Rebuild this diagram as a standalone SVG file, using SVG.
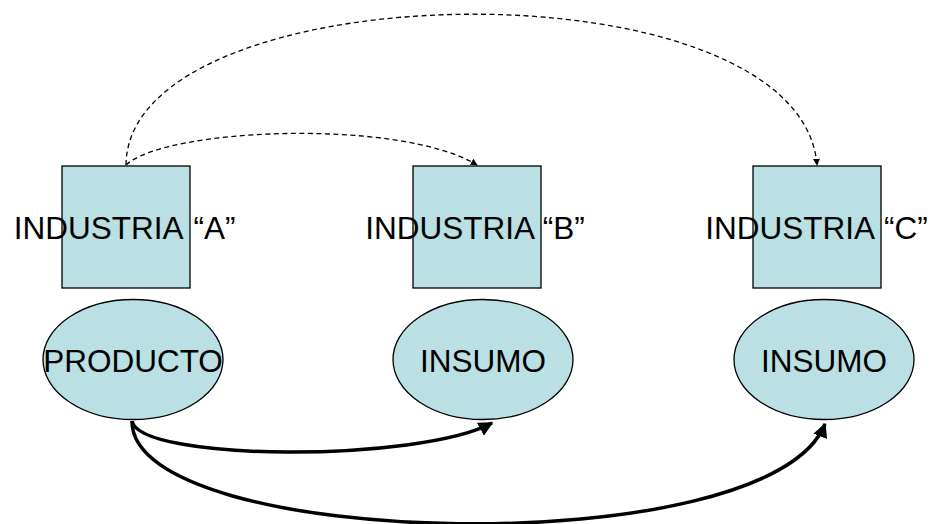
<svg xmlns="http://www.w3.org/2000/svg" width="930" height="524" viewBox="0 0 930 524">
<style>
.box{fill:#BAE0E3;stroke:#000;stroke-width:1.3}
.lbl{font-family:"Liberation Sans",Arial,sans-serif;font-size:31.5px;fill:#000}
.mid{text-anchor:middle}
.dash{fill:none;stroke:#000;stroke-width:1.3;stroke-dasharray:5,3.5}
.solid{fill:none;stroke:#000;stroke-width:3.5}
</style>
<defs>
<marker id="ah" viewBox="0 0 10 10" refX="9" refY="5" markerWidth="7" markerHeight="7" markerUnits="userSpaceOnUse" orient="auto"><path d="M0,0L10,5L0,10z" fill="#000"/></marker>
<marker id="ahb" viewBox="0 0 10 10" refX="9" refY="5" markerWidth="4.2" markerHeight="4.2" orient="auto"><path d="M0,0L10,5L0,10z" fill="#000"/></marker>
</defs>
<g id="connectors">
<path class="dash" d="M126,165 C165,128 400,118 477,165" marker-end="url(#ah)"/>
<path class="dash" d="M126,165 C128,-30 800,-42 817,165" marker-end="url(#ah)"/>
<path class="solid" d="M132,421 C140,462 420,462 492,423" marker-end="url(#ahb)"/>
<path class="solid" d="M132,421 C130,550 770,565 825,424" marker-end="url(#ahb)"/>
</g>
<g id="industria-a"><rect class="box" x="62" y="166" width="128" height="122"/><text class="lbl" x="13.8" y="239">INDUSTRIA<tspan x="193.5">“A”</tspan></text></g>
<g id="industria-b"><rect class="box" x="413" y="166" width="128" height="122"/><text class="lbl" x="365.3" y="239">INDUSTRIA<tspan x="542.7">“B”</tspan></text></g>
<g id="industria-c"><rect class="box" x="753" y="166" width="128" height="122"/><text class="lbl" x="705.3" y="239">INDUSTRIA<tspan x="884">“C”</tspan></text></g>
<g id="producto"><ellipse class="box" cx="133" cy="359.5" rx="90" ry="60"/><text class="lbl mid" x="133" y="372">PRODUCTO</text></g>
<g id="insumo-b"><ellipse class="box" cx="483" cy="359.5" rx="90" ry="60"/><text class="lbl mid" x="483" y="372">INSUMO</text></g>
<g id="insumo-c"><ellipse class="box" cx="824" cy="359.5" rx="90" ry="60"/><text class="lbl mid" x="824" y="372">INSUMO</text></g>
</svg>
